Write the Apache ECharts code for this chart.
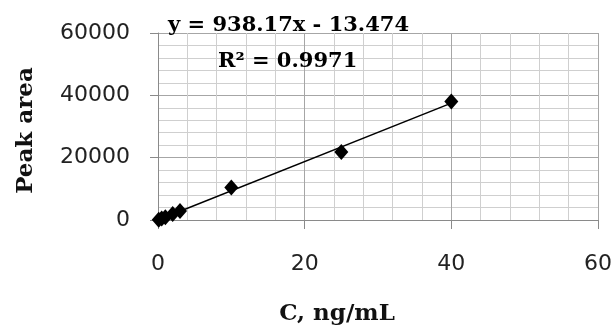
<!DOCTYPE html>
<html>
<head>
<meta charset="utf-8">
<script src="https://cdn.jsdelivr.net/npm/echarts@6/dist/echarts.min.js"></script>
<style>
  html, body { margin: 0; padding: 0; background: #fff; }
  #container { width: 613px; height: 327px; }
</style>
</head>
<body>
<div id="container"></div>
<script>
// 浓度 (ng/mL) 和 峰面积
var conc = [0.1, 0.5, 1, 2, 3, 10, 25, 40];
var peakArea = [80, 450, 900, 1900, 2900, 10450, 21800, 38000];
// 趋势线两端点
var trendX = [0, 40];
var trendY = [-13, 37513];
var eqText = 'y = 938.17x - 13.474';
var r2Text = 'R² = 0.9971';

var myChart = echarts.init(document.getElementById('container'));

var points = conc.map(function (c, i) { return [c, peakArea[i]]; });
var trend = trendX.map(function (x, i) { return [x, trendY[i]]; });

var option = {
    animation: false,
    backgroundColor: '#fff',
    grid: {
        left: 158,
        right: 15,
        top: 33,
        bottom: 107,
        outerBoundsMode: 'none'
    },
    xAxis: {
        type: 'value',
        min: 0,
        max: 60,
        interval: 20,
        name: 'C, ng/mL',
        nameLocation: 'middle',
        nameGap: 83,
        nameTextStyle: {
            fontFamily: 'DejaVu Serif',
            fontWeight: 'bold',
            fontSize: 23,
            color: '#111',
            padding: [0, 82, 0, 0]
        },
        axisLine: { show: true, onZero: false, lineStyle: { color: '#8a8a8a', width: 1 } },
        axisTick: { show: true, length: 9, lineStyle: { color: '#8a8a8a' } },
        axisLabel: {
            margin: 33,
            fontFamily: 'DejaVu Sans',
            fontSize: 22,
            color: '#222'
        },
        splitLine: { show: true, lineStyle: { color: '#a6a6a6', width: 1 } },
        minorTick: { show: false, splitNumber: 5 },
        minorSplitLine: { show: true, lineStyle: { color: '#cfcfcf', width: 1 } }
    },
    yAxis: {
        type: 'value',
        min: 0,
        max: 60000,
        interval: 20000,
        name: 'Peak area',
        nameLocation: 'middle',
        nameGap: 120,
        nameTextStyle: {
            fontFamily: 'DejaVu Serif',
            fontWeight: 'bold',
            fontSize: 23,
            color: '#111',
            padding: [0, 8, 0, 0]
        },
        axisLine: { show: true, lineStyle: { color: '#8a8a8a', width: 1 } },
        axisTick: { show: true, length: 8, lineStyle: { color: '#8a8a8a' } },
        axisLabel: {
            margin: 28,
            fontFamily: 'DejaVu Sans',
            fontSize: 22,
            color: '#222',
            formatter: function (v) { return String(v); }
        },
        splitLine: { show: true, lineStyle: { color: '#a6a6a6', width: 1 } },
        minorTick: { show: false, splitNumber: 5 },
        minorSplitLine: { show: true, lineStyle: { color: '#cfcfcf', width: 1 } }
    },
    series: [
        {
            name: 'trend',
            type: 'line',
            data: trend,
            showSymbol: false,
            symbol: 'none',
            lineStyle: { color: '#000', width: 1.5 },
            z: 2
        },
        {
            name: 'Peak area',
            type: 'scatter',
            data: points,
            symbol: 'diamond',
            symbolSize: [14, 16],
            itemStyle: { color: '#000', opacity: 1 },
            z: 3
        }
    ],
    graphic: [
        {
            type: 'text',
            left: 168,
            top: 15,
            style: {
                text: eqText,
                fontFamily: 'DejaVu Serif',
                fontWeight: 'bold',
                fontSize: 21,
                fill: '#000'
            },
            z: 10
        },
        {
            type: 'text',
            left: 218,
            top: 51,
            style: {
                text: r2Text,
                fontFamily: 'DejaVu Serif',
                fontWeight: 'bold',
                fontSize: 21,
                fill: '#000'
            },
            z: 10
        }
    ]
};

myChart.setOption(option);
</script>
</body>
</html>
